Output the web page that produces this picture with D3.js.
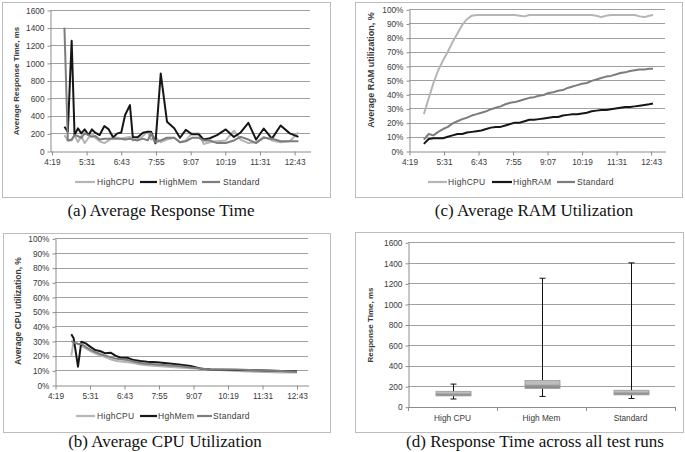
<!DOCTYPE html>
<html><head><meta charset="utf-8">
<script src="https://cdn.jsdelivr.net/npm/d3@7"></script>
<style>
body{margin:0;background:#fff;}
svg{display:block;}
text{font-family:"Liberation Sans Narrow","Liberation Sans",Arial,sans-serif;fill:#3a3a3a;}
text.cap{font-family:"Liberation Serif","Times New Roman",serif;fill:#111;}
</style></head><body>
<svg id="chart" width="685" height="452"></svg>
<script>
// ---------- data ----------
const timeTicks = ["4:19","5:31","6:43","7:55","9:07","10:19","11:31","12:43"];
const respTicks = [0,200,400,600,800,1000,1200,1400,1600];
const pctTicks = [0,10,20,30,40,50,60,70,80,90,100];

// (a) Average Response Time, ms
const respTimes = ["4:46","4:53","5:01","5:07","5:14","5:21","5:28","5:36","5:43","5:50","5:59","6:09","6:18","6:27","6:36","6:44","6:52","7:02","7:08","7:18","7:29","7:39","7:46","7:55","8:06","8:19","8:34","8:46","8:58","9:11","9:25","9:35","9:48","10:03","10:21","10:38","10:52","11:08","11:24","11:40","11:57","12:15","12:34","12:52"];
const respHighCPU = [180,120,120,180,100,170,90,150,200,150,110,90,120,160,150,140,150,160,120,130,170,220,130,160,100,130,150,100,120,200,200,80,100,110,120,230,130,90,100,160,120,100,110,210];
const respHighMem = [275,220,1250,181,257,200,245,181,245,208,181,283,245,155,200,210,408,521,155,155,208,219,219,87,879,332,257,150,240,190,190,130,145,180,245,160,210,320,130,255,140,290,200,160];
const respStandard = [1400,120,130,180,170,150,200,180,160,170,130,140,140,140,140,140,130,140,130,120,140,120,200,100,120,150,150,100,110,150,150,120,120,90,90,120,160,130,90,150,140,110,110,110];

// (c) Average RAM utilization, %
const ramTimes = ["4:50","5:00","5:10","5:20","5:30","5:40","5:50","6:00","6:10","6:20","6:30","6:40","6:50","7:00","7:10","7:20","7:30","7:40","7:50","8:00","8:10","8:20","8:30","8:40","8:50","9:00","9:10","9:20","9:30","9:40","9:50","10:00","10:10","10:20","10:30","10:40","10:50","11:00","11:10","11:20","11:30","11:40","11:50","12:00","12:10","12:20","12:30","12:40","12:48"];
const ramHighCPU = [26,37,48,57,64,70,77,83,89,93,95.5,96,96,96,96,96,96,96,96,96,95.5,95,96,96,96,96,96,96,96,96,96,96,96,96,96,96,95.5,94.5,95.5,96,96,96,96,96,96,95,94.5,95.5,96];
const ramHighRAM = [5,8.5,9,9,9,10,11,12,12,13,13.5,14,14.5,15.5,16.5,17,17,18,19,20,20,21,22,22,22.5,23,23.5,24,24,25,25.5,26,26,26.5,27,28,28.5,29,29,29.5,30,30.5,31,31,31.5,32,32.5,33,33.5];
const ramStandard = [8,12,11,13.5,15.5,17,19.5,21,22.5,23.5,25,26,27,28,29.5,30.5,31.5,33,34,34.5,35.5,36.5,37.5,38,39,39.5,41,41.5,42.5,43,44.5,45.5,46.5,47.5,48,49.5,50.5,51.5,52.5,53,54,55,55.5,56.5,57,57.5,57.5,58,58];

// (b) Average CPU utilization, %
const cpuTimes = ["4:53","4:58","5:07","5:14","5:23","5:33","5:43","5:54","6:04","6:15","6:25","6:36","6:50","7:03","7:17","7:31","7:52","8:13","8:37","9:02","9:26","9:43","10:39","11:21","12:10","12:44"];
const cpuHighCPU = [20,30,28,27,25,23,21.5,20,19,17.5,16.5,16,15.5,15,14,13.5,13,12.5,12,11.5,11,10.5,9.5,9,8.5,8.5];
const cpuHighMem = [34.6,31.8,12.5,29.5,28.4,26,23.8,23,21.6,22,20,18.6,18.6,17,16.3,15.9,15.5,14.8,14,12.9,11,10.5,10.2,10,9.5,9.3];
const cpuStandard = [30,29,28,28,26,24,22.5,21,20,19,18,17.5,17,16,15,14.5,14,13.5,13,12,11,10.5,10.5,10,9.5,9];

// (d) Response time across all test runs (box plot)
const boxCategories = ["High CPU","High Mem","Standard"];
const boxMin = [75,100,80];
const boxQ1 = [105,178,115];
const boxMedian = [125,210,135];
const boxQ3 = [150,255,160];
const boxMax = [220,1250,1400];

// ---------- drawing ----------
const svg = d3.select("#chart");
const parseT = s => { const [h,m] = s.split(":").map(Number); return h*60+m; };
const C_CPU = "#b5b5b5", C_MEM = "#161616", C_STD = "#7d7d7d";
const GRID = "#a0a0a0", AXIS = "#8c8c8c", FRAME = "#bdbdbd";

function frame(x,y,w,h){
  svg.append("rect").attr("x",x+0.5).attr("y",y+0.5).attr("width",w).attr("height",h)
    .attr("fill","none").attr("stroke",FRAME).attr("stroke-width",1);
}

function yAxisGrid(g, y, ticks, left, right, fmt){
  g.append("g").selectAll("line").data(ticks.slice(1)).join("line")
    .attr("x1",left).attr("x2",right)
    .attr("y1",d=>Math.round(y(d))+0.5).attr("y2",d=>Math.round(y(d))+0.5)
    .attr("stroke",GRID).attr("stroke-width",1);
  const ax = g.append("g").attr("transform",`translate(${left+0.5},0.5)`)
    .call(d3.axisLeft(y).tickValues(ticks).tickFormat(fmt).tickSizeInner(3).tickSizeOuter(0));
  ax.select(".domain").attr("stroke",AXIS);
  ax.selectAll(".tick line").attr("stroke",AXIS);
  ax.selectAll(".tick text").attr("x",-6).style("font-size","8.3px").attr("fill","#3a3a3a")
    .style("font-family",'"Liberation Sans Narrow","Liberation Sans",Arial,sans-serif');
}

function linePanel(cfg){
  const g = svg.append("g");
  frame(cfg.frame[0],cfg.frame[1],cfg.frame[2],cfg.frame[3]);
  const x = d3.scaleLinear().domain(cfg.xDomain).range([cfg.l,cfg.r]);
  const y = d3.scaleLinear().domain([0,cfg.yMax]).range([cfg.b,cfg.t]);
  yAxisGrid(g,y,cfg.yTicks,cfg.l,cfg.r,cfg.yFmt);
  const xa = g.append("g").attr("transform",`translate(0.5,${Math.round(cfg.b)+0.5})`)
    .call(d3.axisBottom(x).tickValues(timeTicks.map(parseT)).tickFormat((d,i)=>timeTicks[i]).tickSizeInner(4).tickSizeOuter(0));
  xa.select(".domain").attr("stroke",AXIS);
  xa.selectAll(".tick line").attr("stroke",AXIS);
  xa.selectAll(".tick text").attr("y",8).style("font-size","8.3px").attr("fill","#3a3a3a")
    .style("font-family",'"Liberation Sans Narrow","Liberation Sans",Arial,sans-serif');
  // title
  g.append("text").attr("transform",`translate(${cfg.titleX},${cfg.titleY}) rotate(-90)`)
    .attr("text-anchor","middle").style("font-size",cfg.titleSize+"px").style("font-weight","bold")
    .attr("fill","#2a2a2a").text(cfg.title);
  // lines
  const times = cfg.times.map(parseT);
  cfg.series.forEach(s=>{
    const line = d3.line().x((d,i)=>x(times[i])).y(d=>y(d));
    g.append("path").datum(s.values).attr("d",line).attr("fill","none")
      .attr("stroke",s.color).attr("stroke-width",s.w).attr("stroke-linejoin","round");
  });
  // legend
  cfg.legend.forEach(l=>{
    g.append("line").attr("x1",l.x1).attr("x2",l.x2).attr("y1",cfg.legY).attr("y2",cfg.legY)
      .attr("stroke",l.color).attr("stroke-width",2.2);
    g.append("text").attr("x",l.tx).attr("y",cfg.legY+3).style("font-size","8.5px")
      .style("letter-spacing","0.3px").text(l.name);
  });
}

// (a)
linePanel({
  frame:[2,2,328,195], l:50, r:310, t:10, b:151, xDomain:[256,796], yMax:1600, yTicks:respTicks, yFmt:d=>d,
  title:"Average Response Time, ms", titleX:19, titleY:81, titleSize:8,
  times:respTimes,
  series:[{values:respHighCPU,color:C_CPU,w:2},{values:respHighMem,color:C_MEM,w:2},{values:respStandard,color:C_STD,w:2}],
  legY:182,
  legend:[{name:"HighCPU",color:C_CPU,x1:75,x2:95,tx:97},{name:"HighMem",color:C_MEM,x1:140,x2:157,tx:159},{name:"Standard",color:C_STD,x1:202,x2:220,tx:223}]
});
// (c)
linePanel({
  frame:[355,2,327,195], l:409, r:665, t:9.3, b:151, xDomain:[259,793], yMax:100, yTicks:pctTicks, yFmt:d=>d+"%",
  title:"Average RAM utilization, %", titleX:374, titleY:70, titleSize:9,
  times:ramTimes,
  series:[{values:ramHighCPU,color:C_CPU,w:2},{values:ramHighRAM,color:C_MEM,w:2},{values:ramStandard,color:C_STD,w:2}],
  legY:182,
  legend:[{name:"HighCPU",color:C_CPU,x1:428,x2:447,tx:448},{name:"HighRAM",color:C_MEM,x1:492,x2:512,tx:513},{name:"Standard",color:C_STD,x1:557,x2:575,tx:577}]
});
// (b)
linePanel({
  frame:[3,233,327,199], l:55, r:308, t:238.3, b:385, xDomain:[259,787], yMax:100, yTicks:pctTicks, yFmt:d=>d+"%",
  title:"Average CPU utilization, %", titleX:21, titleY:311, titleSize:8.5,
  times:cpuTimes,
  series:[{values:cpuHighCPU,color:C_CPU,w:2},{values:cpuHighMem,color:C_MEM,w:2},{values:cpuStandard,color:C_STD,w:2}],
  legY:416,
  legend:[{name:"HighCPU",color:C_CPU,x1:76,x2:95,tx:97},{name:"HghMem",color:C_MEM,x1:140,x2:157,tx:158},{name:"Standard",color:C_STD,x1:197,x2:212,tx:213}]
});

// (d) box plot
(function(){
  const g = svg.append("g");
  frame(355,232,328,200);
  const l=408, r=675, t=242.3, b=406.7;
  const y = d3.scaleLinear().domain([0,1600]).range([b,t]);
  const x = d3.scaleBand().domain(boxCategories).range([l,r]);
  yAxisGrid(g,y,respTicks,l,r,d=>d);
  g.append("line").attr("x1",l).attr("x2",r).attr("y1",Math.round(b)+0.5).attr("y2",Math.round(b)+0.5).attr("stroke",AXIS);
  const edges = [l].concat(boxCategories.map(c=>x(c)+x.bandwidth()));
  g.append("g").selectAll("line").data(edges).join("line")
    .attr("x1",d=>Math.round(d)+0.5).attr("x2",d=>Math.round(d)+0.5)
    .attr("y1",Math.round(b)).attr("y2",Math.round(b)+4).attr("stroke",AXIS);
  g.append("g").selectAll("text").data(boxCategories).join("text")
    .attr("x",d=>x(d)+x.bandwidth()/2).attr("y",b+14).attr("text-anchor","middle")
    .style("font-size","8.3px").text(d=>d);
  const bw = 35;
  boxCategories.forEach((c,i)=>{
    const cx = Math.round(x(c)+x.bandwidth()/2)+0.5;
    g.append("line").attr("x1",cx).attr("x2",cx).attr("y1",y(boxMin[i])).attr("y2",y(boxMax[i])).attr("stroke","#111").attr("stroke-width",1);
    [boxMin[i],boxMax[i]].forEach(v=>{
      g.append("line").attr("x1",cx-3).attr("x2",cx+3).attr("y1",y(v)).attr("y2",y(v)).attr("stroke","#111").attr("stroke-width",1);
    });
    g.append("rect").attr("x",cx-bw/2).attr("width",bw)
      .attr("y",y(boxMedian[i])).attr("height",y(boxQ1[i])-y(boxMedian[i]))
      .attr("fill","#8e8e8e").attr("stroke","#9a9a9a").attr("stroke-width",0.8);
    g.append("rect").attr("x",cx-bw/2).attr("width",bw)
      .attr("y",y(boxQ3[i])).attr("height",y(boxMedian[i])-y(boxQ3[i]))
      .attr("fill","#bdbdbd").attr("stroke","#9a9a9a").attr("stroke-width",0.8);
  });
  g.append("text").attr("transform",`translate(373,325) rotate(-90)`)
    .attr("text-anchor","middle").style("font-size","8px").style("font-weight","bold").attr("fill","#2a2a2a")
    .text("Response Time, ms");
})();

// captions
const captions = [
  {t:"(a) Average Response Time", x:161, y:216},
  {t:"(c) Average RAM Utilization", x:534, y:216},
  {t:"(b) Average CPU Utilization", x:165, y:447},
  {t:"(d) Response Time across all test runs", x:535, y:447}
];
svg.selectAll("text.cap").data(captions).join("text").attr("class","cap")
  .attr("x",d=>d.x).attr("y",d=>d.y).attr("text-anchor","middle").style("font-size","17px").text(d=>d.t);
</script>
</body></html>
